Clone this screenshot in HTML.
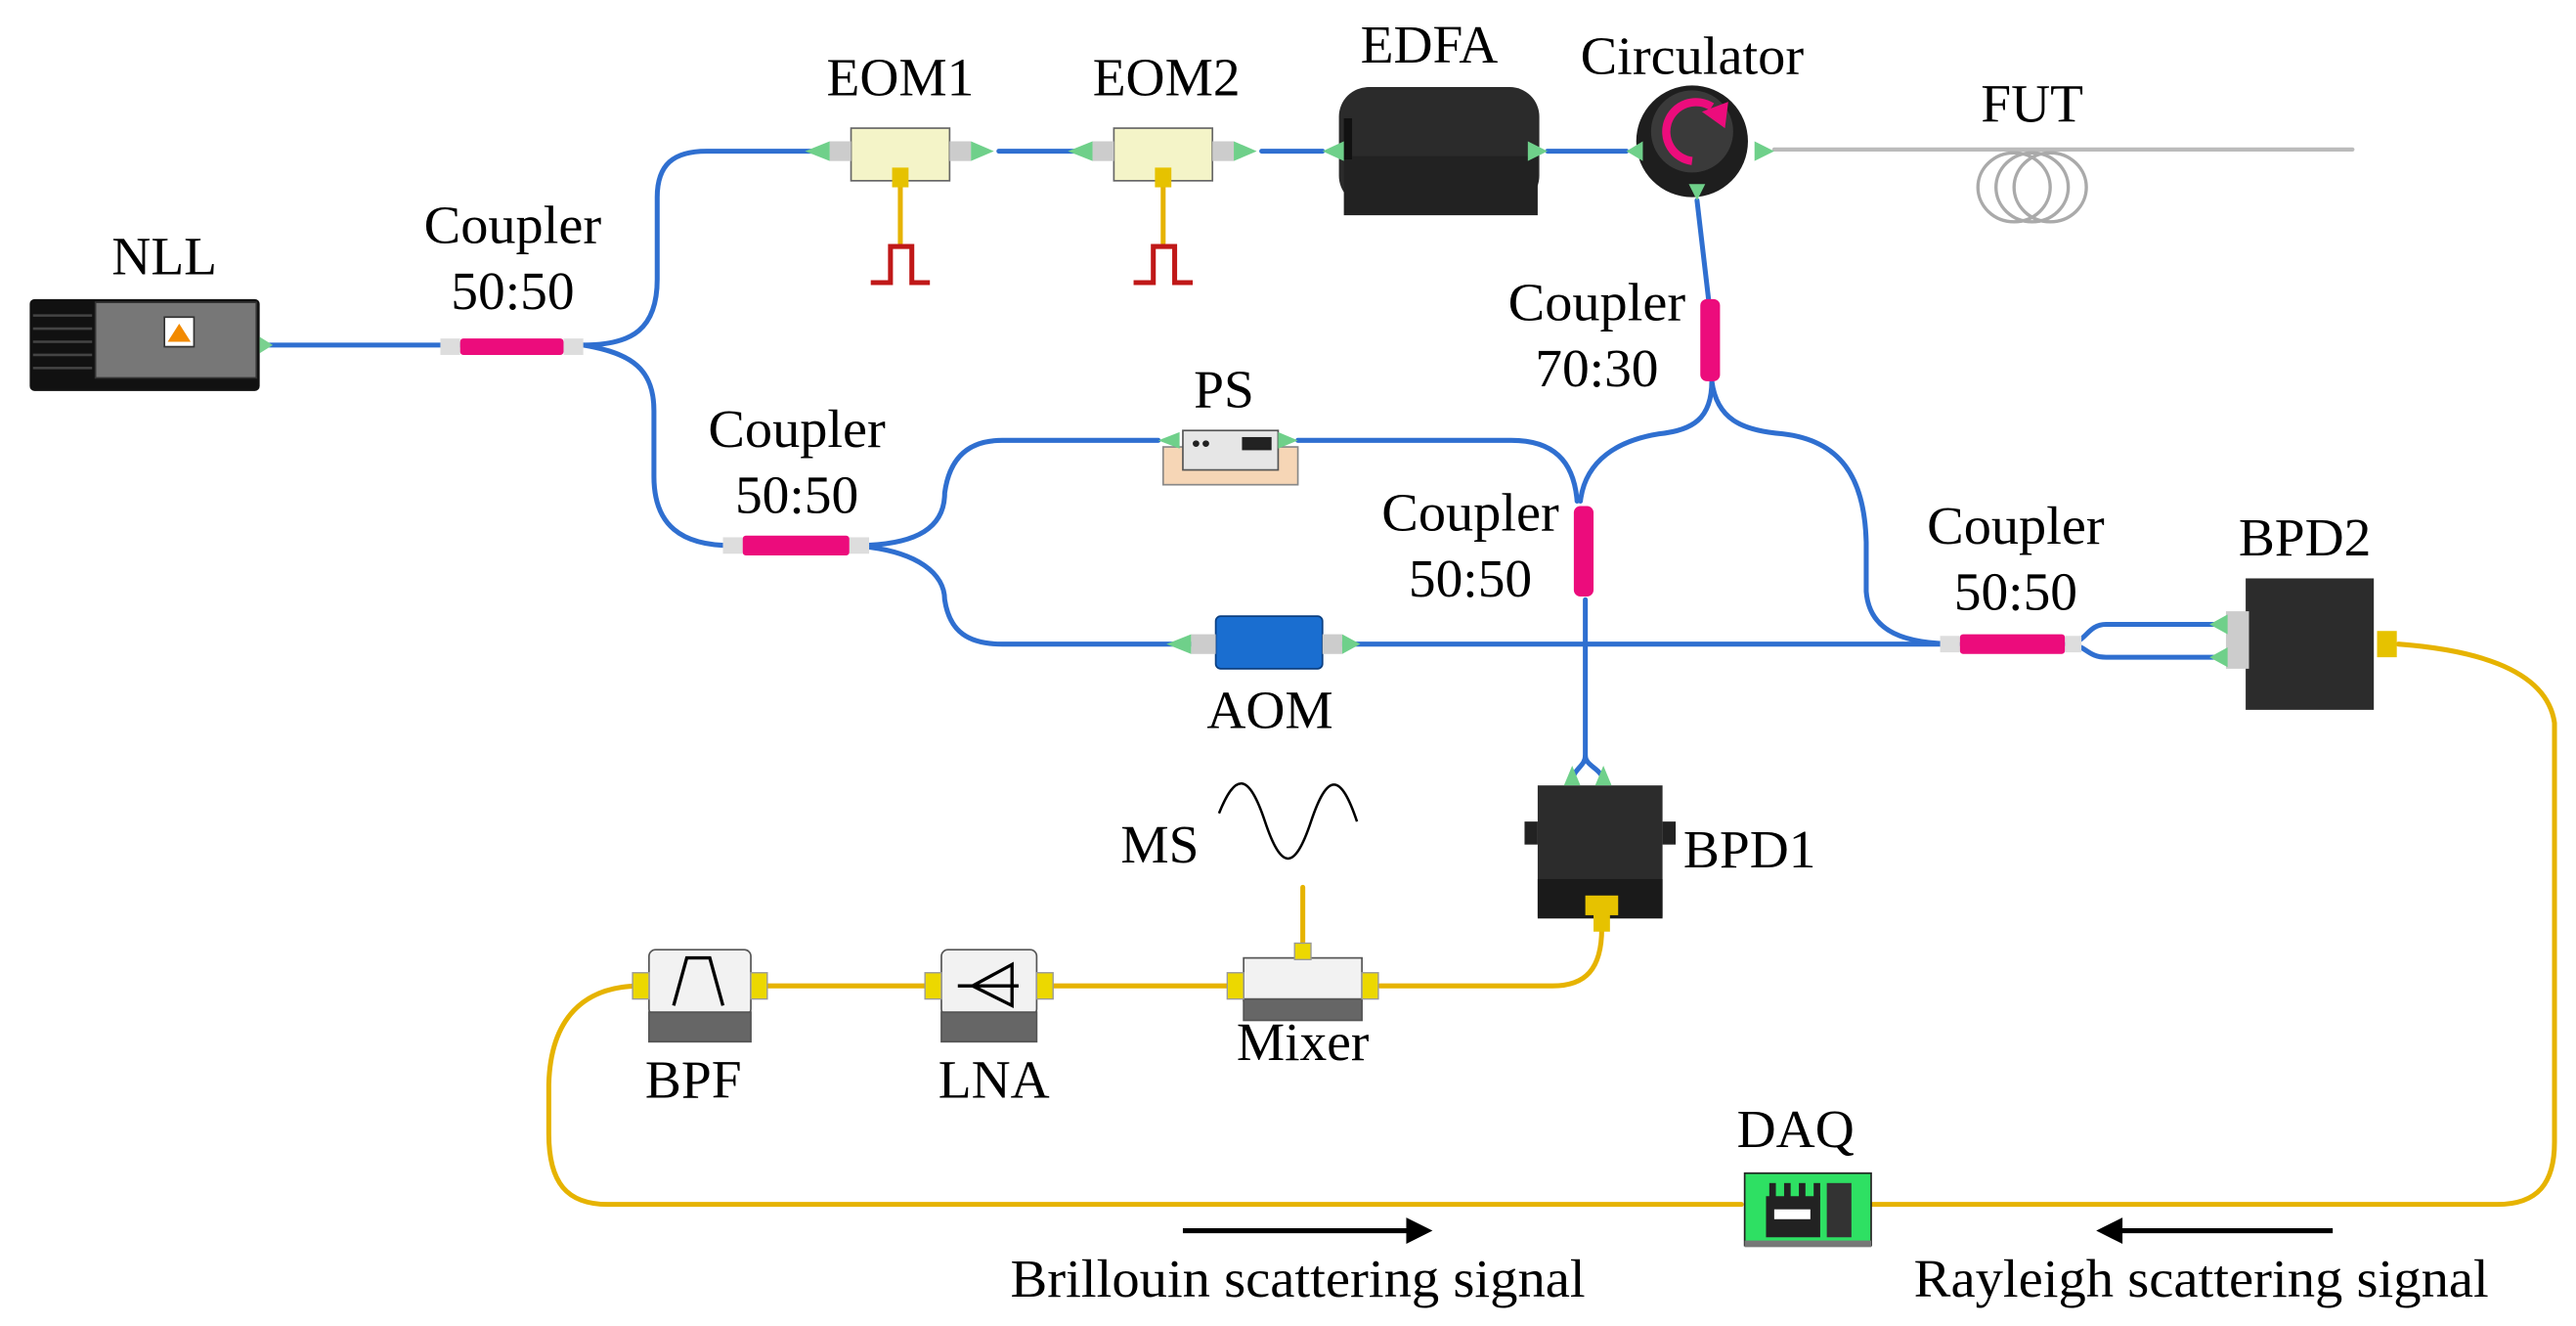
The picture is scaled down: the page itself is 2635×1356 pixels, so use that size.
<!DOCTYPE html>
<html><head><meta charset="utf-8"><style>html,body{margin:0;padding:0;background:#fff}svg{display:block}</style></head><body>
<svg width="2635" height="1356" viewBox="0 0 1568 807" xmlns="http://www.w3.org/2000/svg">
<g fill="none" stroke-linecap="round">
<g stroke="#2f6fd0" stroke-width="3">
<path d="M160 210 H280"/>
<path d="M355 210 C385 210 400 200 400 170 V120 C400 100 410 92 430 92 H500"/>
<path d="M355 210 C385 215 398 225 398 250 V290 C398 320 415 332 445 332"/>
<path d="M608 92 H655"/><path d="M768 92 H805"/><path d="M942 92 H990"/>
<path d="M520 332 C560 332 575 320 575 300 C578 278 590 268 610 268 H705"/>
<path d="M520 332 C560 335 575 350 575 365 C578 385 590 392 610 392 H725"/>
<path d="M790 268 H920 C945 268 958 280 960 305"/>
<path d="M815 392 H1192"/>
<path d="M1033 122 L1040 182"/>
<path d="M1042 232 C1042 255 1030 262 1010 264 C985 268 965 280 962 305"/>
<path d="M1042 232 C1045 255 1060 262 1085 264 C1120 268 1135 290 1136 330 V360 C1138 385 1160 392 1192 392"/>
<path d="M965 365 V460 C965 466 958 468 957 475"/><path d="M965 460 C965 466 975 468 976 475"/>
<path d="M1258 392 C1270 392 1270 380 1282 380 H1355"/><path d="M1258 392 C1270 392 1270 400 1282 400 H1355"/>
</g>
<g stroke="#e6b300" stroke-width="3">
<path d="M548 108 V148"/><path d="M708 108 V148"/>
<path d="M793 540 V582"/>
<path d="M975 565 C975 590 965 600 945 600 H840"/>
<path d="M757 600 H635"/><path d="M570 600 H460"/>
<path d="M390 600 C355 600 335 620 334 660 V690 C334 720 345 733 370 733 H1060"/>
<path d="M1140 733 H1520 C1545 733 1555 720 1555 695 V440 C1550 405 1500 395 1460 392"/>
</g>
<path d="M1080 91 H1432" stroke="#bbb" stroke-width="2.5"/>
<g stroke="#aaa" stroke-width="2"><ellipse cx="1226" cy="114" rx="22" ry="21"/><ellipse cx="1237" cy="114" rx="22" ry="21"/><ellipse cx="1248" cy="114" rx="22" ry="21"/></g>
</g>
<g fill="#ec0c7c">
<rect x="280" y="206" width="63" height="10" rx="2"/>
<rect x="452" y="326" width="65" height="12" rx="2"/>
<rect x="1035" y="182" width="12" height="50" rx="4"/>
<rect x="958" y="308" width="12" height="55" rx="4"/>
<rect x="1193" y="386" width="64" height="12" rx="2"/>
</g>
<g fill="#ddd"><rect x="268" y="206" width="12" height="10"/><rect x="343" y="206" width="12" height="10"/><rect x="440" y="327" width="12" height="10"/><rect x="517" y="327" width="12" height="10"/><rect x="1181" y="387" width="12" height="10"/><rect x="1257" y="387" width="10" height="10"/></g>
<rect x="18" y="182" width="140" height="56" rx="3" fill="#111"/>
<rect x="58" y="184" width="98" height="46" fill="#777" stroke="#333"/>
<g stroke="#444" stroke-width="1.5"><path d="M20 192H56M20 200H56M20 208H56M20 216H56M20 224H56"/></g>
<rect x="100" y="193" width="18" height="18" fill="#fff" stroke="#333"/><path d="M109 197 L116 208 H102Z" fill="#f28a00"/>
<path d="M158 205 L166 210 L158 215Z" fill="#7ad18f"/>
<g><rect x="518" y="78" width="60" height="32" fill="#f4f4c8" stroke="#666"/><rect x="505" y="86" width="13" height="12" fill="#ccc"/><rect x="578" y="86" width="13" height="12" fill="#ccc"/><path d="M490 92 L505 86 V98Z M605 92 L591 86 V98Z" fill="#6fd08a"/><rect x="543" y="102" width="10" height="12" fill="#e6c200"/>
<path d="M530 172 H542 V150 H555 V172 H566" stroke="#c01818" stroke-width="3" fill="none"/></g>
<g><rect x="678" y="78" width="60" height="32" fill="#f4f4c8" stroke="#666"/><rect x="665" y="86" width="13" height="12" fill="#ccc"/><rect x="738" y="86" width="13" height="12" fill="#ccc"/><path d="M650 92 L665 86 V98Z M765 92 L751 86 V98Z" fill="#6fd08a"/><rect x="703" y="102" width="10" height="12" fill="#e6c200"/>
<path d="M690 172 H702 V150 H715 V172 H726" stroke="#c01818" stroke-width="3" fill="none"/></g>
<rect x="815" y="53" width="122" height="72" rx="18" fill="#2b2b2b"/><rect x="818" y="95" width="118" height="36" fill="#222"/><rect x="818" y="72" width="5" height="25" fill="#111"/>
<path d="M805 92 L818 86 V98Z M942 92 L930 86 V98Z" fill="#6fd08a"/>
<circle cx="1030" cy="86" r="34" fill="#1e1e1e"/><circle cx="1030" cy="80" r="25" fill="#3a3a3a"/>
<path d="M1042 65 A18 18 0 1 0 1030 98" stroke="#ec0c7c" stroke-width="5" fill="none"/><path d="M1036 68 L1052 62 L1050 78Z" fill="#ec0c7c"/>
<path d="M990 92 L1000 86 V98Z M1080 92 L1068 86 V98Z M1033 122 L1028 112 H1038Z" fill="#6fd08a"/>
<rect x="708" y="272" width="82" height="23" fill="#f6d6b6" stroke="#888"/><rect x="720" y="262" width="58" height="24" fill="#e6e6e6" stroke="#555"/><rect x="756" y="266" width="18" height="8" fill="#222"/><circle cx="728" cy="270" r="2" fill="#222"/><circle cx="734" cy="270" r="2" fill="#222"/>
<path d="M705 268 L718 263 V273Z M790 268 L778 263 V273Z" fill="#6fd08a"/>
<rect x="740" y="375" width="65" height="32" rx="3" fill="#1a6ed0" stroke="#0b3f80"/><rect x="725" y="386" width="15" height="12" fill="#ccc"/><rect x="805" y="386" width="12" height="12" fill="#ccc"/>
<path d="M710 392 L725 386 V398Z M828 392 L817 386 V398Z" fill="#6fd08a"/>
<rect x="936" y="478" width="76" height="80" fill="#2c2c2c"/><rect x="936" y="535" width="76" height="24" fill="#1a1a1a"/><rect x="928" y="500" width="8" height="14" fill="#222"/><rect x="1012" y="500" width="8" height="14" fill="#222"/>
<rect x="965" y="545" width="20" height="12" fill="#e6c200"/><rect x="970" y="555" width="10" height="12" fill="#e6c200"/>
<path d="M957 466 L952 478 H962Z M976 466 L971 478 H981Z" fill="#6fd08a"/>
<rect x="1367" y="352" width="78" height="80" fill="#2c2c2c"/><rect x="1355" y="372" width="14" height="35" fill="#ccc"/>
<path d="M1345 380 L1356 374 V386Z M1345 400 L1356 394 V406Z" fill="#6fd08a"/><rect x="1447" y="384" width="12" height="16" fill="#e6c200"/>
<g stroke="#555" stroke-width="1"><rect x="395" y="578" width="62" height="40" rx="4" fill="#f2f2f2"/><rect x="395" y="616" width="62" height="18" fill="#666"/>
<rect x="573" y="578" width="58" height="40" rx="4" fill="#f2f2f2"/><rect x="573" y="616" width="58" height="18" fill="#666"/>
<rect x="757" y="583" width="72" height="26" fill="#f2f2f2"/><rect x="757" y="608" width="72" height="13" fill="#666"/></g>
<path d="M410 612 L418 583 H432 L440 612" stroke="#000" stroke-width="2" fill="none"/>
<path d="M583 600 H620 M616 587 L592 600 L616 612Z" stroke="#000" stroke-width="2" fill="none"/>
<g fill="#ecd800" stroke="#999" stroke-width=".8"><rect x="385" y="592" width="10" height="16"/><rect x="457" y="592" width="10" height="16"/><rect x="563" y="592" width="10" height="16"/><rect x="631" y="592" width="10" height="16"/><rect x="747" y="592" width="10" height="16"/><rect x="829" y="592" width="10" height="16"/><rect x="788" y="574" width="10" height="10"/></g>
<path d="M742 495 C752 470 760 470 770 500 C780 530 788 530 798 500 C808 470 816 470 826 500" stroke="#000" stroke-width="1.5" fill="none"/>
<rect x="1062" y="714" width="77" height="44" fill="#2ee063" stroke="#222"/><rect x="1062" y="755" width="77" height="4" fill="#777"/>
<rect x="1075" y="728" width="33" height="25" fill="#222"/><rect x="1077" y="720" width="4" height="10" fill="#222"/><rect x="1086" y="720" width="4" height="10" fill="#222"/><rect x="1095" y="720" width="4" height="10" fill="#222"/><rect x="1104" y="720" width="4" height="10" fill="#222"/><rect x="1080" y="736" width="22" height="6" fill="#fff"/><rect x="1112" y="720" width="15" height="33" fill="#333"/>
<path d="M720 749 H858" stroke="#000" stroke-width="3"/><path d="M872 749 L856 741 V757Z" fill="#000"/>
<path d="M1420 749 H1290" stroke="#000" stroke-width="3"/><path d="M1276 749 L1292 741 V757Z" fill="#000"/>
<g font-size="33" text-anchor="middle" font-family="'Liberation Serif', 'Times New Roman', serif" fill="#000" lengthAdjust="spacingAndGlyphs">
<text x="100" y="167">NLL</text>
<text x="312" y="148" textLength="108" lengthAdjust="spacingAndGlyphs">Coupler</text><text x="312" y="188">50:50</text>
<text x="548" y="58">EOM1</text><text x="710" y="58">EOM2</text>
<text x="870" y="38">EDFA</text><text x="1030" y="45" textLength="136" lengthAdjust="spacingAndGlyphs">Circulator</text><text x="1237" y="74">FUT</text>
<text x="972" y="195" textLength="108" lengthAdjust="spacingAndGlyphs">Coupler</text><text x="972" y="235">70:30</text>
<text x="485" y="272" textLength="108" lengthAdjust="spacingAndGlyphs">Coupler</text><text x="485" y="312">50:50</text>
<text x="745" y="248">PS</text>
<text x="895" y="323" textLength="108" lengthAdjust="spacingAndGlyphs">Coupler</text><text x="895" y="363">50:50</text>
<text x="1227" y="331" textLength="108" lengthAdjust="spacingAndGlyphs">Coupler</text><text x="1227" y="371">50:50</text>
<text x="1403" y="338">BPD2</text><text x="773" y="443">AOM</text>
<text x="1065" y="528">BPD1</text><text x="706" y="525">MS</text>
<text x="422" y="668">BPF</text><text x="605" y="668">LNA</text><text x="793" y="645">Mixer</text><text x="1093" y="698">DAQ</text>
<text x="790" y="789" textLength="350" lengthAdjust="spacingAndGlyphs">Brillouin scattering signal</text>
<text x="1340" y="789" textLength="350" lengthAdjust="spacingAndGlyphs">Rayleigh scattering signal</text>
</g>
</svg>
</body></html>
